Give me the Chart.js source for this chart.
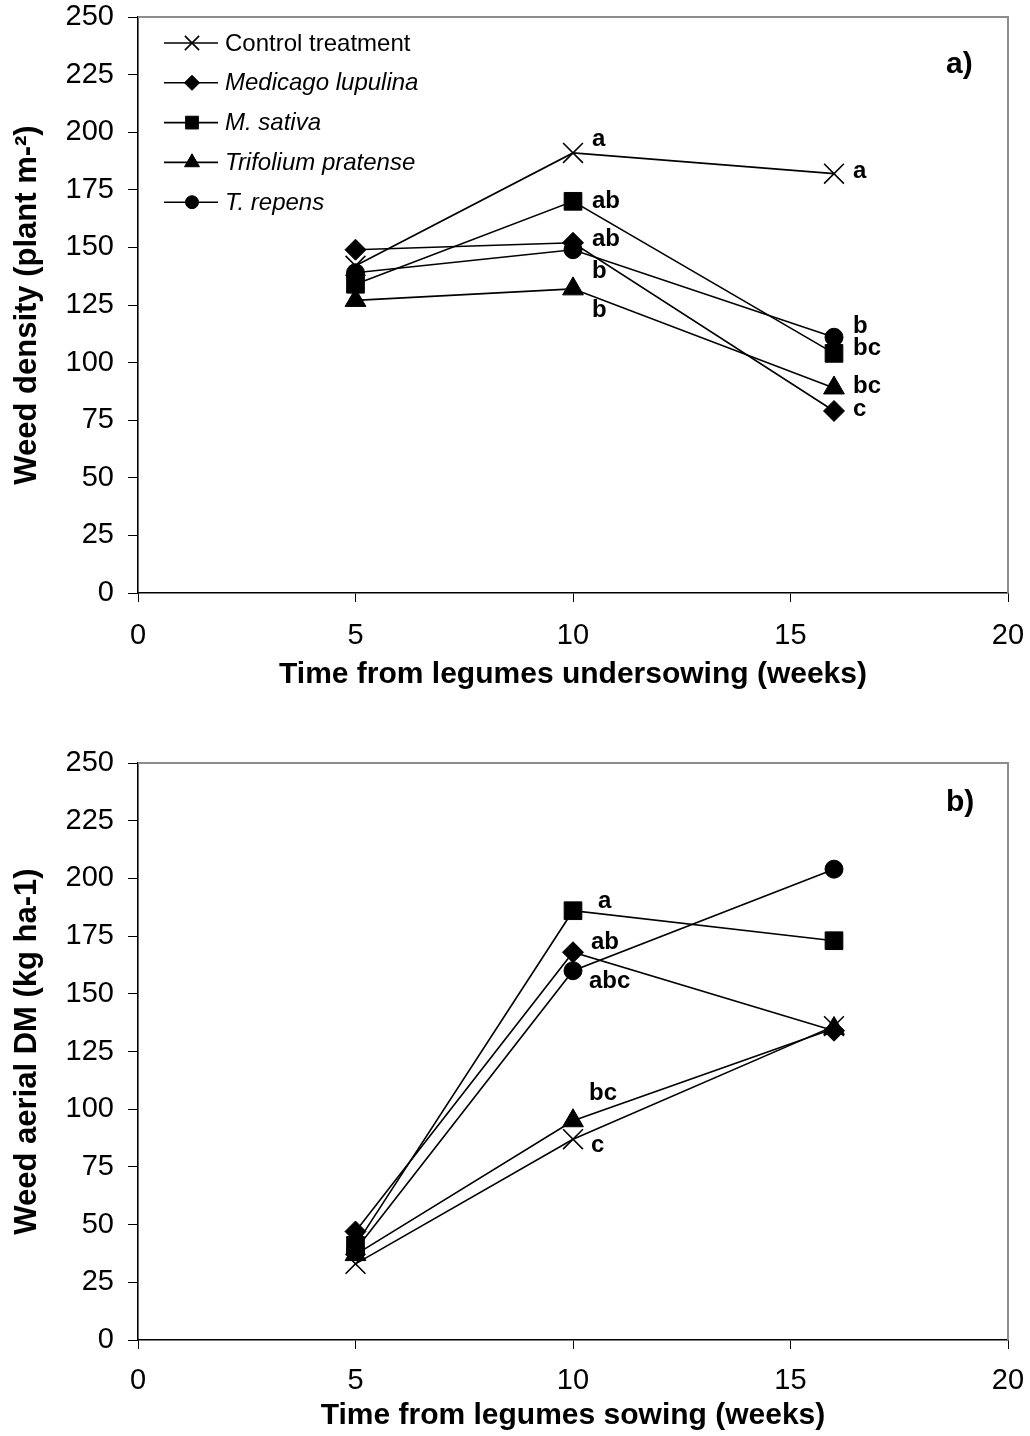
<!DOCTYPE html>
<html><head><meta charset="utf-8">
<script src="https://cdn.jsdelivr.net/npm/chart.js@4.4.1/dist/chart.umd.min.js"></script>
<style>
body{margin:0;background:#fff;width:1030px;height:1436px;overflow:hidden;position:relative}
.box{position:absolute;left:0;width:1030px;height:718px}
</style></head><body>
<div class="box" style="top:0"><canvas id="c1" width="1030" height="718"></canvas></div>
<div class="box" style="top:718px"><canvas id="c2" width="1030" height="718"></canvas></div>
<script>
// ---- data ----
const weeks = [5, 10, 16];
const seriesNames = ['Control treatment', 'Medicago lupulina', 'M. sativa', 'Trifolium pratense', 'T. repens'];
const seriesItalic = [false, true, true, true, true];
const xTickValues = [0, 5, 10, 15, 20];
const yTickValues = [0, 25, 50, 75, 100, 125, 150, 175, 200, 225, 250];

// a) weed density (plant m-2)
const densityControl  = [142, 191, 182];
const densityLupulina = [149, 152, 79];
const densitySativa   = [134, 170, 104];
const densityPratense = [127, 132, 89];
const densityRepens   = [139, 149, 111];
const densityLettersControl  = ['', 'a', 'a'];
const densityLettersLupulina = ['', 'ab', 'c'];
const densityLettersSativa   = ['', 'ab', 'bc'];
const densityLettersPratense = ['', 'b', 'bc'];
const densityLettersRepens   = ['', 'b', 'b'];

// b) weed aerial DM (kg ha-1)
const dmControl  = [33, 87, 136];
const dmLupulina = [47, 168, 134];
const dmSativa   = [41, 186, 173];
const dmPratense = [37, 95, 135];
const dmRepens   = [39, 160, 204];
const dmLettersControl  = ['', 'c', ''];
const dmLettersLupulina = ['', 'ab', ''];
const dmLettersSativa   = ['', 'a', ''];
const dmLettersPratense = ['', 'bc', ''];
const dmLettersRepens   = ['', 'abc', ''];

// ---- styles ----
const FONT = "'Liberation Sans', Arial, sans-serif";
const markerStyles = [
  {pointStyle: 'crossRot', radius: 14},
  {pointStyle: 'rectRot', radius: 10.5},
  {pointStyle: 'rect', radius: 12.5},
  {pointStyle: 'triangle', radius: 12},
  {pointStyle: 'circle', radius: 9}
];
// letter label offsets (px) per series per point
const offsetsA = [
  [[0,0],[19,-14],[19,-2]],
  [[0,0],[19,-3],[19,-2]],
  [[0,0],[19,0],[19,-5]],
  [[0,0],[19,22],[19,-2]],
  [[0,0],[19,22],[19,-11]]
];
const offsetsB = [
  [[0,0],[18,6],[0,0]],
  [[0,0],[18,-10],[0,0]],
  [[0,0],[25,-9],[0,0]],
  [[0,0],[16,-27],[0,0]],
  [[0,0],[16,11],[0,0]]
];

function toPoints(vals){ return weeks.map((w,i)=>({x:w, y:vals[i]})); }

function makeDatasets(seriesVals){
  return seriesVals.map((vals, i) => ({
    label: seriesNames[i],
    data: toPoints(vals),
    borderColor: '#000',
    borderWidth: 1.6,
    backgroundColor: '#000',
    pointStyle: markerStyles[i].pointStyle,
    pointRadius: markerStyles[i].radius,
    pointHoverRadius: markerStyles[i].radius,
    pointBackgroundColor: '#000',
    pointBorderColor: '#000',
    pointBorderWidth: i === 0 ? 1.6 : 1,
    fill: false,
    tension: 0
  }));
}

function drawMarker(ctx, style, r, x, y){
  ctx.save();
  ctx.fillStyle = '#000'; ctx.strokeStyle = '#000'; ctx.lineWidth = style==='crossRot'?1.6:1;
  if (Chart.helpers && Chart.helpers.drawPoint) {
    Chart.helpers.drawPoint(ctx, {pointStyle: style, radius: r, rotation: 0, borderWidth: ctx.lineWidth}, x, y);
  } else {
    ctx.beginPath(); ctx.arc(x, y, r, 0, Math.PI*2); ctx.fill();
  }
  ctx.restore();
}

const framePlugin = {
  id: 'frame',
  beforeDatasetsDraw(chart){
    const a = chart.chartArea, ctx = chart.ctx;
    ctx.save();
    ctx.strokeStyle = '#8c8c8c'; ctx.lineWidth = 2;
    ctx.beginPath();
    ctx.moveTo(a.left, a.top); ctx.lineTo(a.right, a.top); ctx.lineTo(a.right, a.bottom);
    ctx.stroke();
    ctx.restore();
  }
};

const lettersPlugin = {
  id: 'letters',
  afterDatasetsDraw(chart, args, opts){
    const ctx = chart.ctx;
    ctx.save();
    ctx.fillStyle = '#000';
    ctx.font = 'bold 24px ' + FONT;
    ctx.textAlign = 'left'; ctx.textBaseline = 'middle';
    opts.letters.forEach((arr, si) => {
      const meta = chart.getDatasetMeta(si);
      arr.forEach((t, pi) => {
        if (!t) return;
        const el = meta.data[pi];
        const off = opts.offsets[si][pi];
        ctx.fillText(t, el.x + off[0], el.y + off[1]);
      });
    });
    ctx.font = 'bold 30px ' + FONT;
    ctx.textAlign = 'left';
    ctx.fillText(opts.panel, chart.chartArea.right - 62, chart.chartArea.top + opts.panelDy);
    ctx.restore();
  }
};

const legendPlugin = {
  id: 'customLegend',
  afterDraw(chart, args, opts){
    if (!opts.show) return;
    const ctx = chart.ctx;
    ctx.save();
    seriesNames.forEach((name, i) => {
      const y = 43 + i * 39.8;
      ctx.strokeStyle = '#000'; ctx.lineWidth = 1.6;
      ctx.beginPath(); ctx.moveTo(164, y); ctx.lineTo(218, y); ctx.stroke();
      const r = markerStyles[i].radius * 0.72;
      drawMarker(ctx, markerStyles[i].pointStyle, r, 192, y);
      ctx.fillStyle = '#000';
      ctx.font = (seriesItalic[i] ? 'italic ' : '') + '24px ' + FONT;
      ctx.textAlign = 'left'; ctx.textBaseline = 'middle';
      ctx.fillText(name, 225, y + 1);
    });
    ctx.restore();
  }
};

function makeChart(canvasId, seriesVals, letters, offsets, cfg){
  return new Chart(document.getElementById(canvasId), {
    type: 'line',
    data: {datasets: makeDatasets(seriesVals)},
    options: {
      responsive: false,
      animation: false,
      devicePixelRatio: 1,
      layout: {padding: {top: cfg.padTop, right: 22, left: 0, bottom: 0}},
      plugins: {
        legend: {display: false},
        tooltip: {enabled: false},
        letters: {letters: letters, offsets: offsets, panel: cfg.panel, panelDy: cfg.panelDy},
        customLegend: {show: cfg.legend}
      },
      scales: {
        x: {
          type: 'linear', min: 0, max: 20,
          afterBuildTicks(s){ s.ticks = xTickValues.map(v => ({value: v})); },
          afterFit(s){ s.height = cfg.xHeight; s.paddingLeft = 0; s.paddingRight = 0; },
          ticks: {color: '#000', font: {family: FONT, size: 29}, padding: cfg.xTickPad, maxRotation: 0, autoSkip: false},
          grid: {drawOnChartArea: false, drawTicks: true, tickLength: 9, tickColor: '#000', tickWidth: 1},
          border: {display: true, color: '#000', width: 1.6},
          title: {display: true, text: cfg.xTitle, color: '#000',
                  font: {family: FONT, size: 30, weight: 'bold'}, padding: {top: 0, bottom: cfg.xTitlePad}}
        },
        y: {
          type: 'linear', min: 0, max: 250,
          afterBuildTicks(s){ s.ticks = yTickValues.map(v => ({value: v})); },
          afterFit(s){ s.width = 138; s.paddingTop = 0; s.paddingBottom = 0; },
          ticks: {color: '#000', font: {family: FONT, size: 29}, padding: 14, autoSkip: false},
          grid: {drawOnChartArea: false, drawTicks: true, tickLength: 10, tickColor: '#000', tickWidth: 1},
          border: {display: true, color: '#000', width: 1.6},
          title: {display: true, text: cfg.yTitle, color: '#000',
                  font: {family: FONT, size: 31, weight: 'bold'}, padding: {top: 9, bottom: 0}}
        }
      }
    },
    plugins: [framePlugin, lettersPlugin, legendPlugin]
  });
}

makeChart('c1',
  [densityControl, densityLupulina, densitySativa, densityPratense, densityRepens],
  [densityLettersControl, densityLettersLupulina, densityLettersSativa, densityLettersPratense, densityLettersRepens],
  offsetsA,
  {padTop: 17, xHeight: 125, xTitlePad: 25, xTickPad: 17, xTitle: 'Time from legumes undersowing (weeks)',
   yTitle: 'Weed density (plant m-\u00B2)', panel: 'a)', panelDy: 48, legend: true});

makeChart('c2',
  [dmControl, dmLupulina, dmSativa, dmPratense, dmRepens],
  [dmLettersControl, dmLettersLupulina, dmLettersSativa, dmLettersPratense, dmLettersRepens],
  offsetsB,
  {padTop: 45, xHeight: 96, xTitlePad: 2, xTickPad: 15, xTitle: 'Time from legumes sowing (weeks)',
   yTitle: 'Weed aerial DM (kg ha-1)', panel: 'b)', panelDy: 40, legend: false});
</script>
</body></html>
